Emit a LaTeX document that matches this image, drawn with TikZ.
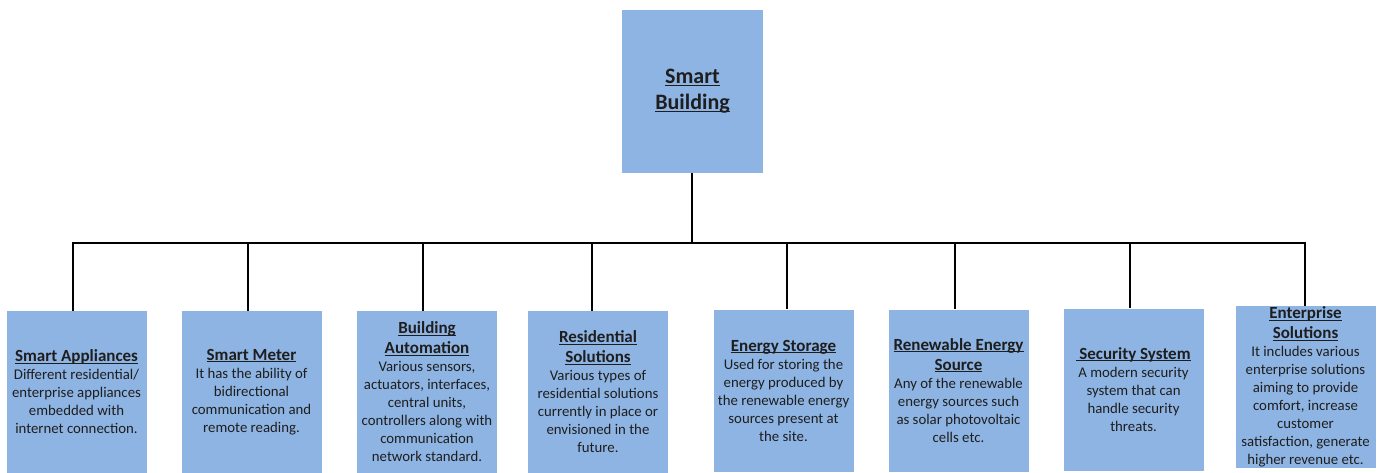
\documentclass[tikz,border=0pt]{standalone}
\usepackage{fontspec}
\setmainfont{Carlito}
\definecolor{boxfill}{HTML}{8EB4E3}
\definecolor{txt}{HTML}{1E1E1E}
\newcommand\myul[1]{\leavevmode\setbox0\hbox{#1}\rlap{\rule[-2pt]{\wd0}{1pt}}\box0}
\newcommand\hd[1]{{\bfseries\fontsize{17}{20}\selectfont\myul{#1}}}
\begin{document}
\begin{tikzpicture}[x=1pt,y=-1pt,
  card/.style={rectangle, fill=boxfill, inner sep=0pt, minimum width=140pt, minimum height=162pt,
    align=center, text=txt, font=\fontsize{14.8}{18}\selectfont},
  topcard/.style={rectangle, fill=boxfill, inner sep=0pt, minimum width=141pt, minimum height=163pt,
    align=center, text=txt, font=\bfseries\fontsize{22}{26}\selectfont},
  link/.style={draw=black, line width=1.6pt}]
\useasboundingbox (0,0) rectangle (1381,473);
\fill[white] (0,0) rectangle (1381,473);

\node[topcard] (root) at (692.5,91.5) {\myul{Smart}\\\myul{Building}};

\node[card] (n1) at (76.5,392) {\hd{Smart Appliances}\\Different residential/\\enterprise appliances\\embedded with\\internet connection.};
\node[card] (n2) at (251.5,392) {\hd{Smart Meter}\\It has the ability of\\bidirectional\\communication and\\remote reading.};
\node[card] (n3) at (427,392) {\hd{Building}\\[2pt]\hd{Automation}\\Various sensors,\\actuators, interfaces,\\central units,\\controllers along with\\communication\\network standard.};
\node[card] (n4) at (598,392) {\hd{Residential}\\[2pt]\hd{Solutions}\\Various types of\\residential solutions\\currently in place or\\envisioned in the\\future.};
\node[card] (n5) at (783.5,390.5) {\hd{Energy Storage}\\Used for storing the\\energy produced by\\the renewable energy\\sources present at\\the site.};
\node[card] (n6) at (958.5,390.5) {\hd{Renewable Energy}\\[2pt]\hd{Source}\\Any of the renewable\\energy sources such\\as solar photovoltaic\\cells etc.};
\node[card] (n7) at (1133.5,389.5) {\hd{\,Security System}\\A modern security\\system that can\\handle security\\threats.};
\node[card] (n8) at (1305.5,387) {\hd{Enterprise}\\[2pt]\hd{Solutions}\\It includes various\\enterprise solutions\\aiming to provide\\comfort, increase\\customer\\satisfaction, generate\\higher revenue etc.};

\coordinate (hub) at (692,243);
\coordinate (c1) at (73,243);
\coordinate (c2) at (248,243);
\coordinate (c3) at (423,243);
\coordinate (c4) at (592,243);
\coordinate (c5) at (787,243);
\coordinate (c6) at (955,243);
\coordinate (c7) at (1130,243);
\coordinate (c8) at (1305,243);

\draw[link] (root.south -| hub) -- (hub);
\draw[link, line cap=rect] (c1) -- (c8);
\foreach \i in {1,...,8} {
  \draw[link] (c\i) -- (c\i |- n\i.north);
}
\end{tikzpicture}
\end{document}
